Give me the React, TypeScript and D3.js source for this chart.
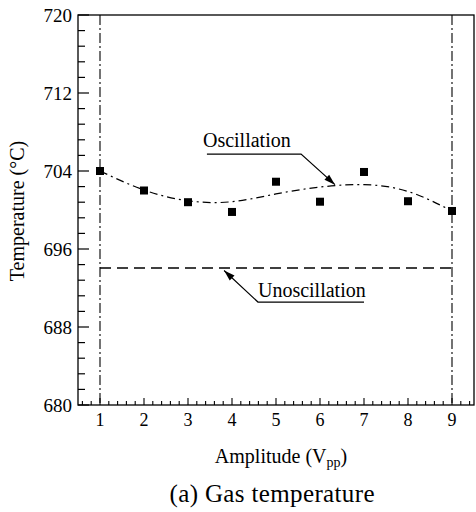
import React from "react";
import * as d3 from "d3";

const amplitudes = [1, 2, 3, 4, 5, 6, 7, 8, 9];
const measuredTemp = [704.0, 702.0, 700.8, 699.8, 702.9, 700.85, 703.9, 700.9, 699.9];
const fitTemp = [704.0, 702.05, 700.95, 700.85, 701.65, 702.35, 702.6, 701.9, 699.9];
const unoscillatedTemp = 694.05;
const yMajorTicks = [680, 688, 696, 704, 712, 720];
const xMajorTicks = [1, 2, 3, 4, 5, 6, 7, 8, 9];
const boundaryAmplitudes = [1, 9];

const W = 476;
const H = 512;
const M = { left: 78, right: 2, top: 15, bottom: 107 };
const FONT = '"Liberation Serif", "Times New Roman", Times, serif';

function arrowHead(x1: number, y1: number, x2: number, y2: number, len = 11, half = 3.5) {
  const a = Math.atan2(y2 - y1, x2 - x1);
  const bx = x2 - len * Math.cos(a);
  const by = y2 - len * Math.sin(a);
  const px = -Math.sin(a) * half;
  const py = Math.cos(a) * half;
  return `M${x2},${y2}L${bx + px},${by + py}L${bx - px},${by - py}Z`;
}

export default function App() {
  const x = d3.scaleLinear().domain([0.5, 9.5]).range([M.left, W - M.right]);
  const y = d3.scaleLinear().domain([680, 720]).range([H - M.bottom, M.top]);

  const yMinor = d3.range(680, 720.001, 1.6);
  const xMinor = d3.range(0.6, 9.401, 0.2);

  const line = d3
    .line<number>()
    .x((_, i) => x(amplitudes[i]))
    .y((d) => y(d))
    .curve(d3.curveNatural);

  const x0 = x.range()[0];
  const x1 = x.range()[1];
  const y0 = y.range()[0];
  const y1 = y.range()[1];

  const osc = { textX: 3.34, textY: 706.46, ulX0: 3.43, ulX1: 5.57, ulY: 705.74, tipX: 6.34, tipY: 702.6 };
  const unosc = { textX: 4.59, textY: 691.08, ulX0: 4.59, ulX1: 7.0, ulY: 690.56, tipX: 3.82, tipY: 693.8 };

  const T = { fontFamily: FONT, fill: "#000" } as const;

  return (
    <svg
      width={W}
      height={H}
      style={{ position: "absolute", left: 0, top: 0, display: "block", background: "#fff" }}
    >
      <rect x={x0} y={y1} width={x1 - x0} height={y0 - y1} fill="none" stroke="#000" strokeWidth={1.3} />

      {yMinor.map((v) => {
        const major = yMajorTicks.some((m) => Math.abs(m - v) < 1e-6);
        return (
          <line key={"ym" + v} x1={x0} x2={x0 + (major ? 11 : 7)} y1={y(v)} y2={y(v)} stroke="#000" strokeWidth={1.2} />
        );
      })}
      {yMajorTicks.map((v) => (
        <text key={"yl" + v} {...T} x={x0 - 6} y={y(v)} dy="0.35em" textAnchor="end" fontSize={19}>
          {v}
        </text>
      ))}

      {xMinor.map((v) => {
        const major = xMajorTicks.some((m) => Math.abs(m - v) < 1e-6);
        return (
          <line key={"xm" + v.toFixed(1)} x1={x(v)} x2={x(v)} y1={y0} y2={y0 - (major ? 7 : 4)} stroke="#000" strokeWidth={1.1} />
        );
      })}
      {xMajorTicks.map((v) => (
        <text key={"xl" + v} {...T} x={x(v)} y={y0 + 21} textAnchor="middle" fontSize={18}>
          {v}
        </text>
      ))}

      {boundaryAmplitudes.map((v) => (
        <line key={"b" + v} x1={x(v)} x2={x(v)} y1={y1} y2={y0} stroke="#000" strokeWidth={1.1} strokeDasharray="10,3,2,3" />
      ))}

      <line
        x1={x(boundaryAmplitudes[0])}
        x2={x(boundaryAmplitudes[1])}
        y1={y(unoscillatedTemp)}
        y2={y(unoscillatedTemp)}
        stroke="#000"
        strokeWidth={1.3}
        strokeDasharray="11,6"
      />

      <path d={line(fitTemp) || ""} fill="none" stroke="#000" strokeWidth={1.2} strokeDasharray="8,4,2,4" />

      {measuredTemp.map((v, i) => (
        <rect key={"p" + i} x={x(amplitudes[i]) - 4} y={y(v) - 4} width={8} height={8} fill="#000" />
      ))}

      <text {...T} x={x(osc.textX)} y={y(osc.textY)} fontSize={20}>
        Oscillation
      </text>
      <polyline
        points={`${x(osc.ulX0)},${y(osc.ulY)} ${x(osc.ulX1)},${y(osc.ulY)} ${x(osc.tipX)},${y(osc.tipY)}`}
        fill="none"
        stroke="#000"
        strokeWidth={1.2}
      />
      <path d={arrowHead(x(osc.ulX1), y(osc.ulY), x(osc.tipX), y(osc.tipY))} fill="#000" />

      <text {...T} x={x(unosc.textX)} y={y(unosc.textY)} fontSize={20}>
        Unoscillation
      </text>
      <polyline
        points={`${x(unosc.ulX1)},${y(unosc.ulY)} ${x(unosc.ulX0)},${y(unosc.ulY)} ${x(unosc.tipX)},${y(unosc.tipY)}`}
        fill="none"
        stroke="#000"
        strokeWidth={1.2}
      />
      <path d={arrowHead(x(unosc.ulX0), y(unosc.ulY), x(unosc.tipX), y(unosc.tipY))} fill="#000" />

      <text {...T} transform={`translate(24,211) rotate(-90)`} textAnchor="middle" fontSize={20}>
        Temperature (°C)
      </text>
      <text {...T} x={281} y={463} textAnchor="middle" fontSize={20}>
        Amplitude (V<tspan fontSize={14} dy={4}>pp</tspan>
        <tspan dy={-4}>)</tspan>
      </text>
      <text {...T} x={272} y={502} textAnchor="middle" fontSize={25} textLength={205} lengthAdjust="spacing">
        (a) Gas temperature
      </text>
    </svg>
  );
}
